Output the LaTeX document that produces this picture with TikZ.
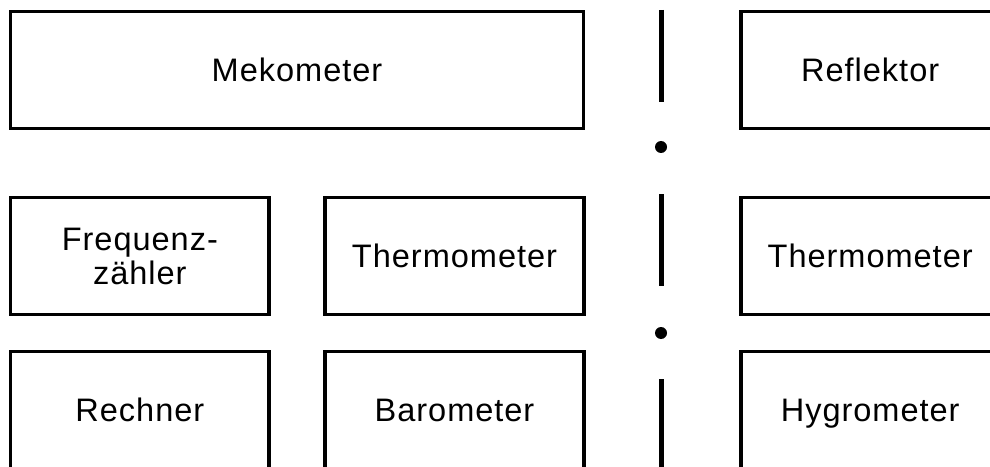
\documentclass[tikz,border=0pt]{standalone}
\usepackage{fontspec}
\setmainfont{Liberation Sans}[LetterSpace=3]
\usetikzlibrary{positioning}

\begin{document}
\begin{tikzpicture}[x=0.75pt, y=-0.75pt]
    \tikzset{
        box/.style = {rectangle, draw=black, line width=2.55pt, outer sep=0pt, inner sep=0pt,
                      minimum height=87.75pt, align=center, text depth=0pt,
                      font=\fontsize{24.4pt}{25.5pt}\selectfont},
        wide/.style = {box, minimum width=429.75pt},
        small/.style = {box, minimum width=194pt},
        sep/.style = {draw=black, line width=3.75pt},
        dot/.style = {circle, fill=black, minimum size=9pt, inner sep=0pt},
    }
    \useasboundingbox (0,0) rectangle (990,467);

    \node[wide, anchor=north west](mekometer) at (10.5,11.5){Mekometer};
    
    \node[small](reflektor)[right = 118pt of mekometer]{Reflektor};
    
    \node[small](frequenz)[below right = 51.75pt and 0pt of mekometer.south west]{Frequenz-\\zähler};
    
    \node[small](thermo)[right = 42pt of frequenz]{Thermometer};
    
    \node[small](thermoref)[below = 51.75pt of reflektor]{Thermometer};
    
    \node[small](rechner)[below = 27.75pt of frequenz]{Rechner};
    
    \node[small](barometer)[below = 27.75pt of thermo]{Barometer};
    
    \node[small](hygrometer)[below = 27.75pt of thermoref]{Hygrometer};
    
    % dividing line between Mekometer side and Reflektor side
    \coordinate (a1) at (661,10);
    \coordinate (a2) at (661,102);
    \coordinate (b1) at (661,194);
    \coordinate (b2) at (661,286);
    \coordinate (c1) at (661,379);
    \coordinate (c2) at (661,475);
    \path [sep] (a1) -- (a2);
    \path [sep] (b1) -- (b2);
    \path [sep] (c1) -- (c2);
    \node[dot](dot1) at (661,147){};
    \node[dot](dot2) at (661,333){};

\end{tikzpicture}
\end{document}
